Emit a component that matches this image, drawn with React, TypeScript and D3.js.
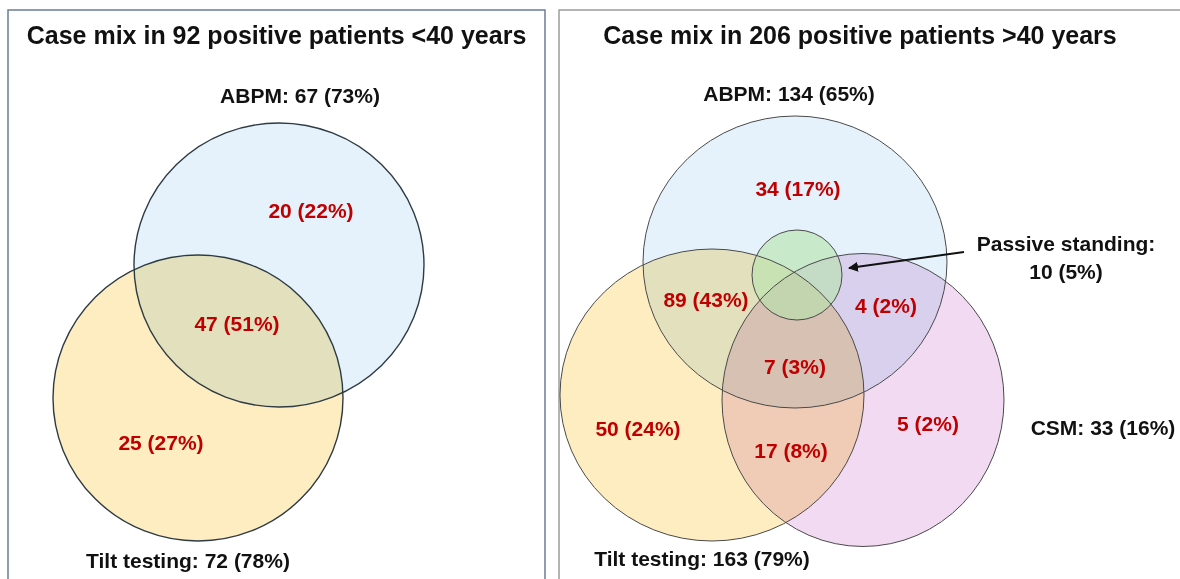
import * as d3 from 'd3';
import { useEffect } from 'react';

const W = 1180;
const H = 579;

// --- data ---
const TITLES = [
  'Case mix in 92 positive patients <40 years',
  'Case mix in 206 positive patients >40 years',
];

const YOUNG_SETS = [
  { key: 'abpm', name: 'ABPM', n: 67, pct: 73 },
  { key: 'tilt', name: 'Tilt testing', n: 72, pct: 78 },
];
const YOUNG_REGIONS = [
  { key: 'abpm', n: 20, pct: 22 },
  { key: 'abpm+tilt', n: 47, pct: 51 },
  { key: 'tilt', n: 25, pct: 27 },
];

const OLD_SETS = [
  { key: 'abpm', name: 'ABPM', n: 134, pct: 65 },
  { key: 'tilt', name: 'Tilt testing', n: 163, pct: 79 },
  { key: 'csm', name: 'CSM', n: 33, pct: 16 },
  { key: 'ps', name: 'Passive standing', n: 10, pct: 5 },
];
const OLD_REGIONS = [
  { key: 'abpm', n: 34, pct: 17 },
  { key: 'abpm+tilt', n: 89, pct: 43 },
  { key: 'abpm+csm', n: 4, pct: 2 },
  { key: 'abpm+tilt+csm', n: 7, pct: 3 },
  { key: 'tilt', n: 50, pct: 24 },
  { key: 'tilt+csm', n: 17, pct: 8 },
  { key: 'csm', n: 5, pct: 2 },
];

// --- layout (panel-local pixels) ---
const PANELS = [
  { x: 8, y: 10, w: 537, stroke: '#6b7d96', titleShift: 0 },
  { x: 559, y: 10, w: 640, stroke: '#9c9c9c', titleShift: -19 },
];

const SET_COLORS: Record<string, string> = {
  abpm: '#e5f2fb',
  tilt: '#fdedc0',
  csm: '#f2dbf2',
};

type Shape = { cx: number; cy: number; rx: number; ry: number };

const YOUNG_SHAPES: Record<string, Shape> = {
  abpm: { cx: 271, cy: 255, rx: 145, ry: 142 },
  tilt: { cx: 190, cy: 388, rx: 145, ry: 143 },
};
const YOUNG_SET_LABELS: Record<string, [number, number]> = {
  abpm: [292, 85],
  tilt: [180, 550],
};
const YOUNG_REGION_POS: Record<string, [number, number]> = {
  abpm: [303, 200],
  'abpm+tilt': [229, 313],
  tilt: [153, 432],
};

const OLD_SHAPES: Record<string, Shape> = {
  abpm: { cx: 236, cy: 252, rx: 152, ry: 146 },
  tilt: { cx: 153, cy: 385, rx: 152, ry: 146 },
  csm: { cx: 304, cy: 390, rx: 141, ry: 146.5 },
  ps: { cx: 238, cy: 265, rx: 45, ry: 45 },
};
const OLD_SET_LABELS: Record<string, [number, number]> = {
  abpm: [230, 83],
  tilt: [143, 548],
  csm: [544, 417],
};
const OLD_REGION_POS: Record<string, [number, number]> = {
  abpm: [239, 178],
  'abpm+tilt': [147, 289],
  'abpm+csm': [327, 295],
  'abpm+tilt+csm': [236, 356],
  tilt: [79, 418],
  'tilt+csm': [232, 440],
  csm: [369, 413],
};
const PS_LABEL: [number, number] = [507, 233];
const PS_ARROW: [[number, number], [number, number]] = [
  [405, 242],
  [290, 258],
];

const FONT = '"Liberation Sans", Arial, Helvetica, sans-serif';
const RED = '#c00000';
const INK = '#111111';

const fmt = (n: number, pct: number) => `${n} (${pct}%)`;

function Panel({
  idx,
  sets,
  regions,
  shapes,
  setLabels,
  regionPos,
  children,
}: {
  idx: number;
  sets: typeof OLD_SETS;
  regions: typeof OLD_REGIONS;
  shapes: Record<string, Shape>;
  setLabels: Record<string, [number, number]>;
  regionPos: Record<string, [number, number]>;
  children?: React.ReactNode;
}) {
  const p = PANELS[idx];
  const x = d3.scaleLinear().domain([0, p.w]).range([p.x, p.x + p.w]);
  const y = d3.scaleLinear().domain([0, H]).range([p.y, p.y + H]);
  const big = sets.filter((s) => SET_COLORS[s.key]);
  const strokeCol = idx === 0 ? '#2e3b44' : '#4a4a4a';
  const strokeW = idx === 0 ? 1.4 : 1;

  return (
    <g>
      <rect
        x={p.x}
        y={p.y}
        width={p.w}
        height={H + 20}
        fill="#fff"
        stroke={p.stroke}
        strokeWidth={1.5}
      />
      <text
        x={x(p.w / 2) + p.titleShift}
        y={y(25)}
        textAnchor="middle"
        dominantBaseline="central"
        fontFamily={FONT}
        fontWeight="bold"
        fontSize={25}
        fill={INK}
      >
        {TITLES[idx]}
      </text>
      <g style={{ isolation: 'isolate' }}>
        {big.map((s) => {
          const c = shapes[s.key];
          return (
            <ellipse
              key={s.key}
              cx={x(c.cx)}
              cy={y(c.cy)}
              rx={c.rx}
              ry={c.ry}
              fill={SET_COLORS[s.key]}
              style={{ mixBlendMode: 'multiply' }}
            />
          );
        })}
      </g>
      {shapes.ps ? (
        <ellipse
          cx={x(shapes.ps.cx)}
          cy={y(shapes.ps.cy)}
          rx={shapes.ps.rx}
          ry={shapes.ps.ry}
          fill="#b5e2ab"
          fillOpacity={0.6}
        />
      ) : null}
      {sets.map((s) => {
        const c = shapes[s.key];
        return (
          <ellipse
            key={`o-${s.key}`}
            cx={x(c.cx)}
            cy={y(c.cy)}
            rx={c.rx}
            ry={c.ry}
            fill="none"
            stroke={strokeCol}
            strokeWidth={strokeW}
          />
        );
      })}
      {regions.map((r) => {
        const [rx, ry] = regionPos[r.key];
        return (
          <text
            key={`r-${r.key}`}
            x={x(rx)}
            y={y(ry)}
            textAnchor="middle"
            dominantBaseline="central"
            fontFamily={FONT}
            fontWeight="bold"
            fontSize={21}
            fill={RED}
          >
            {fmt(r.n, r.pct)}
          </text>
        );
      })}
      {sets
        .filter((s) => setLabels[s.key])
        .map((s) => {
          const [lx, ly] = setLabels[s.key];
          return (
            <text
              key={`l-${s.key}`}
              x={x(lx)}
              y={y(ly)}
              textAnchor="middle"
              dominantBaseline="central"
              fontFamily={FONT}
              fontWeight="bold"
              fontSize={21}
              fill={INK}
            >
              {`${s.name}: ${fmt(s.n, s.pct)}`}
            </text>
          );
        })}
      {children}
    </g>
  );
}

export default function App() {
  useEffect(() => {
    document.body.style.margin = '0';
  }, []);

  const p = PANELS[1];
  const x = d3.scaleLinear().domain([0, p.w]).range([p.x, p.x + p.w]);
  const y = d3.scaleLinear().domain([0, H]).range([p.y, p.y + H]);
  const ps = OLD_SETS.find((s) => s.key === 'ps')!;

  return (
    <div style={{ position: 'fixed', left: 0, top: 0, background: '#fff' }}>
      <svg width={W} height={H} viewBox={`0 0 ${W} ${H}`}>
        <defs>
          <marker
            id="arrowHead"
            viewBox="0 0 10 10"
            refX="9"
            refY="5"
            markerWidth="5"
            markerHeight="5"
            orient="auto"
          >
            <path d="M0,0 L10,5 L0,10 z" fill="#111" />
          </marker>
        </defs>
        <rect width={W} height={H} fill="#fff" />
        <Panel
          idx={0}
          sets={YOUNG_SETS}
          regions={YOUNG_REGIONS}
          shapes={YOUNG_SHAPES}
          setLabels={YOUNG_SET_LABELS}
          regionPos={YOUNG_REGION_POS}
        />
        <Panel
          idx={1}
          sets={OLD_SETS}
          regions={OLD_REGIONS}
          shapes={OLD_SHAPES}
          setLabels={OLD_SET_LABELS}
          regionPos={OLD_REGION_POS}
        >
          <line
            x1={x(PS_ARROW[0][0])}
            y1={y(PS_ARROW[0][1])}
            x2={x(PS_ARROW[1][0])}
            y2={y(PS_ARROW[1][1])}
            stroke="#111"
            strokeWidth={2}
            markerEnd="url(#arrowHead)"
          />
          <text
            x={x(PS_LABEL[0])}
            y={y(PS_LABEL[1])}
            textAnchor="middle"
            dominantBaseline="central"
            fontFamily={FONT}
            fontWeight="bold"
            fontSize={21}
            fill={INK}
          >
            <tspan x={x(PS_LABEL[0])}>{`${ps.name}:`}</tspan>
            <tspan x={x(PS_LABEL[0])} dy={28}>
              {fmt(ps.n, ps.pct)}
            </tspan>
          </text>
        </Panel>
      </svg>
    </div>
  );
}
